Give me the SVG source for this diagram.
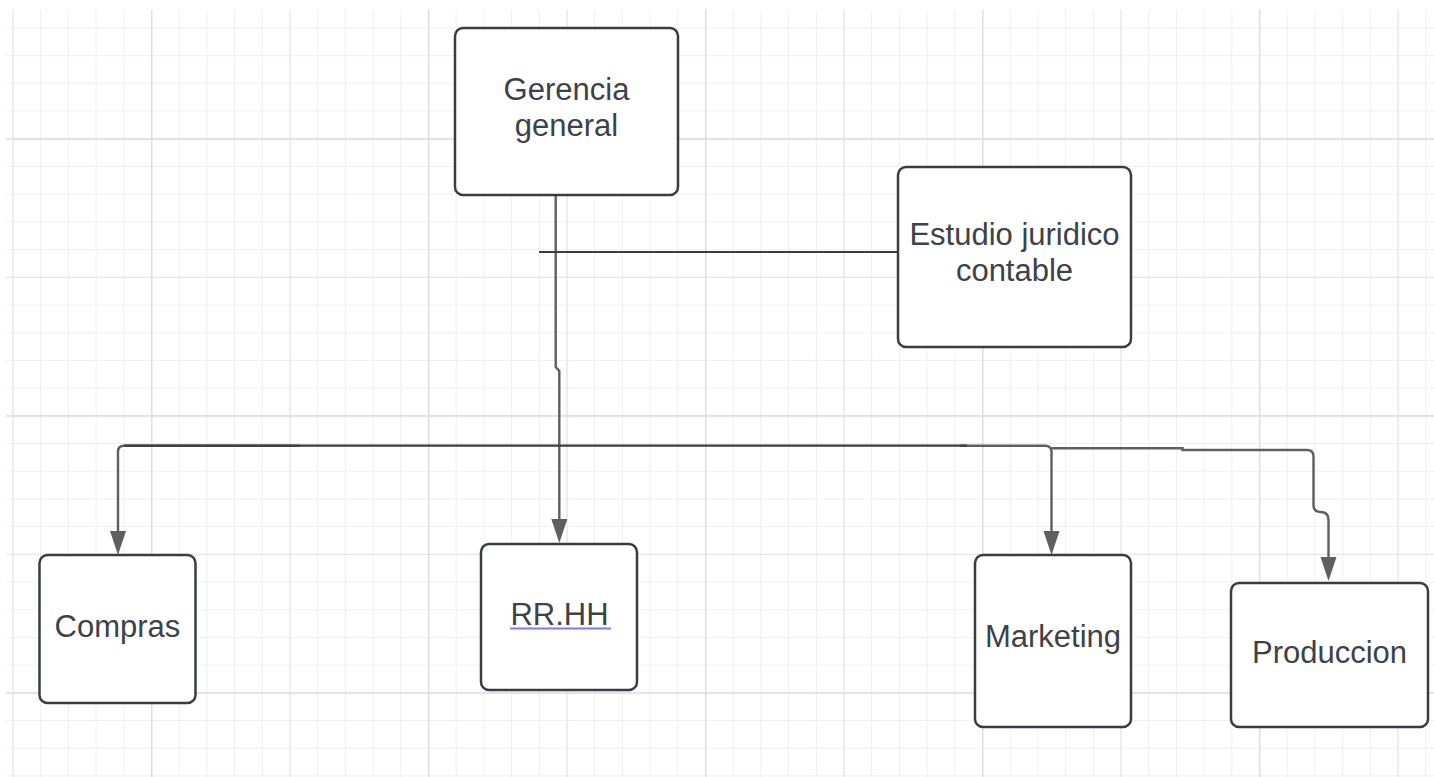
<svg xmlns="http://www.w3.org/2000/svg" width="1434" height="777" viewBox="0 0 1434 777">
<style>
.box{fill:#ffffff;stroke:#393c43;stroke-width:2.5}
.lbl{font-family:"Liberation Sans",Arial,sans-serif;font-size:31px;fill:#3d4148;text-anchor:middle}
.gline{fill:none;stroke:#5f5f5f;stroke-width:2.4}
.dline{fill:none;stroke:#393c43;stroke-width:2.2}
</style>
<defs>
<pattern id="gMinor" patternUnits="userSpaceOnUse" x="12.5" y="27.5" width="27.7" height="27.7">
<rect x="0" y="0" width="1" height="27.7" fill="#efefef"/>
<rect x="0" y="0" width="27.7" height="1" fill="#efefef"/>
</pattern>
<pattern id="gMid" patternUnits="userSpaceOnUse" x="12.5" y="0" width="138.5" height="138.5">
<rect x="0" y="0" width="1.2" height="138.5" fill="#e6e6e6"/>
<rect x="0" y="138.3" width="138.5" height="0.2" fill="#e6e6e6"/>
<rect x="0" y="0" width="138.5" height="1" fill="#e6e6e6"/>
</pattern>
<pattern id="gMajor" patternUnits="userSpaceOnUse" x="151" y="138.3" width="277" height="277">
<rect x="0" y="0" width="1.4" height="277" fill="#dedede"/>
<rect x="0" y="0" width="277" height="1.4" fill="#dedede"/>
</pattern>
<marker id="arr" markerUnits="userSpaceOnUse" markerWidth="26" markerHeight="18" refX="14" refY="8" orient="auto">
<path d="M0,0 L24,8 L0,16 Z" fill="#5f5f5f"/>
</marker>
</defs>
<rect width="1434" height="777" fill="#ffffff"/>
<g id="grid">
<rect x="6" y="10" width="1428" height="767" fill="url(#gMinor)"/>
<rect x="6" y="10" width="1428" height="767" fill="url(#gMid)"/>
<rect x="6" y="10" width="1428" height="767" fill="url(#gMajor)"/>
</g>
<g id="connectors">
<path class="gline" d="M555.7 195 V367 L559.3 371 V533" marker-end="url(#arr)"/>
<path class="dline" d="M539 252 H898"/>
<path class="gline" d="M300 445.7 H124 Q118 445.7 118 451.7 V545" marker-end="url(#arr)"/>
<path class="gline" d="M960 445.7 H1045 Q1051.5 445.7 1051.5 452 V545" marker-end="url(#arr)"/>
<path class="dline" d="M124 445.7 H967"/>
<path class="gline" d="M1051.5 448.3 H1182.5 V450 H1307 Q1313.5 450 1313.5 456.5 V505 Q1313.5 512 1320.5 512 Q1328.5 512 1328.5 520 V571" marker-end="url(#arr)"/>
</g>
<g id="gerencia">
<rect class="box" x="455" y="28" width="223" height="167" rx="8"/>
<text class="lbl" x="566.5" y="100">Gerencia</text>
<text class="lbl" x="566.5" y="136">general</text>
</g>
<g id="estudio">
<rect class="box" x="898" y="167" width="233" height="180" rx="8"/>
<text class="lbl" x="1014.5" y="245">Estudio juridico</text>
<text class="lbl" x="1014.5" y="281">contable</text>
</g>
<g id="compras">
<rect class="box" x="39.5" y="555" width="156" height="148" rx="8"/>
<text class="lbl" x="117.5" y="637">Compras</text>
</g>
<g id="rrhh">
<rect class="box" x="481" y="544" width="156" height="146" rx="8"/>
<text class="lbl" x="559.5" y="625">RR.HH</text>
<line x1="510" y1="628.5" x2="611" y2="628.5" stroke="#7b7bf5" stroke-width="2"/>
</g>
<g id="marketing">
<rect class="box" x="975" y="555" width="156" height="172" rx="8"/>
<text class="lbl" x="1053" y="647">Marketing</text>
</g>
<g id="produccion">
<rect class="box" x="1231" y="583" width="197" height="144" rx="8"/>
<text class="lbl" x="1329.5" y="663">Produccion</text>
</g>
</svg>
